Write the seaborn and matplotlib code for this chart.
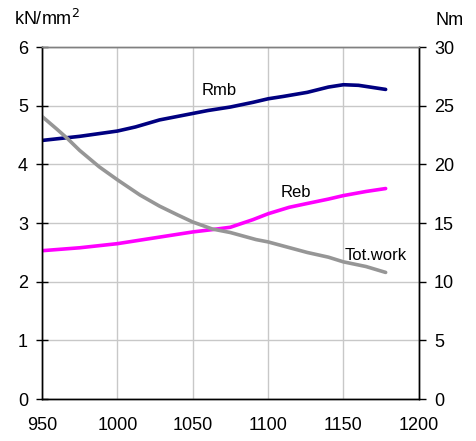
import numpy as np
import pandas as pd
import matplotlib
matplotlib.use('Agg')
import matplotlib.pyplot as plt
import seaborn as sns

# temperature axis
temp_rmb = [950, 975, 1000, 1012, 1028, 1040, 1050, 1060, 1075, 1090, 1100, 1110, 1126, 1140, 1150, 1160, 1178]
rmb = [4.41, 4.48, 4.57, 4.64, 4.76, 4.82, 4.87, 4.92, 4.98, 5.06, 5.12, 5.16, 5.23, 5.32, 5.36, 5.35, 5.28]

temp_reb = [950, 975, 1000, 1010, 1025, 1040, 1050, 1063, 1075, 1090, 1100, 1114, 1125, 1140, 1150, 1165, 1178]
reb = [2.53, 2.58, 2.65, 2.69, 2.75, 2.81, 2.85, 2.89, 2.93, 3.06, 3.16, 3.27, 3.33, 3.41, 3.47, 3.54, 3.59]

temp_work = [950, 960, 967, 975, 988, 1000, 1015, 1028, 1040, 1050, 1063, 1075, 1092, 1100, 1126, 1140, 1150, 1165, 1178]
work = [24.1, 23.0, 22.2, 21.2, 19.8, 18.7, 17.4, 16.45, 15.7, 15.1, 14.5, 14.2, 13.6, 13.4, 12.5, 12.1, 11.7, 11.3, 10.8]

sns.set_style("white")
plt.rcParams['font.family'] = ['Liberation Sans', 'DejaVu Sans']
plt.rcParams['font.size'] = 13
plt.rcParams['text.color'] = 'black'
plt.rcParams['xtick.color'] = 'black'
plt.rcParams['ytick.color'] = 'black'

fig, ax = plt.subplots(figsize=(4.77, 4.41), dpi=100)
fig.subplots_adjust(left=0.088, right=0.878, top=0.893, bottom=0.095)

sns.lineplot(x=temp_rmb, y=rmb, ax=ax, color='#000080', linewidth=2.6)
sns.lineplot(x=temp_reb, y=reb, ax=ax, color='#ff00ff', linewidth=2.6)

ax2 = ax.twinx()
sns.lineplot(x=temp_work, y=work, ax=ax2, color='#969696', linewidth=2.6)

ax.set_xlim(950, 1200)
ax.set_ylim(0, 6)
ax2.set_ylim(0, 30)
ax.set_xticks([950, 1000, 1050, 1100, 1150, 1200])
ax.set_yticks(range(0, 7))
ax2.set_yticks(range(0, 31, 5))

ax.grid(True, color='#c8c8c8', linewidth=1)
ax2.grid(False)
ax.set_axisbelow(True)

for a in (ax, ax2):
    for s in a.spines.values():
        s.set_color('black')
        s.set_linewidth(1)
    a.spines['top'].set_color('#808080')

ax.tick_params(axis='x', direction='out', length=5, width=1, color='black', pad=8, labelsize=13)
ax.tick_params(axis='y', direction='inout', length=8, width=1, color='black', pad=6, labelsize=13)
ax2.tick_params(axis='y', direction='out', length=5, width=1, color='black', pad=6, labelsize=13)

ax.set_xlabel('')
ax.set_ylabel('')
ax2.set_ylabel('')

fig.text(0.03, 0.935, 'kN/mm$^2$', fontsize=13, ha='left', va='bottom')
fig.text(0.914, 0.935, 'Nm', fontsize=13, ha='left', va='bottom')

ax.text(1056, 5.18, 'Rmb', fontsize=12)
ax.text(1108, 3.44, 'Reb', fontsize=12)
ax.text(1151, 2.37, 'Tot.work', fontsize=12)

fig.savefig('out.png', dpi=100)
